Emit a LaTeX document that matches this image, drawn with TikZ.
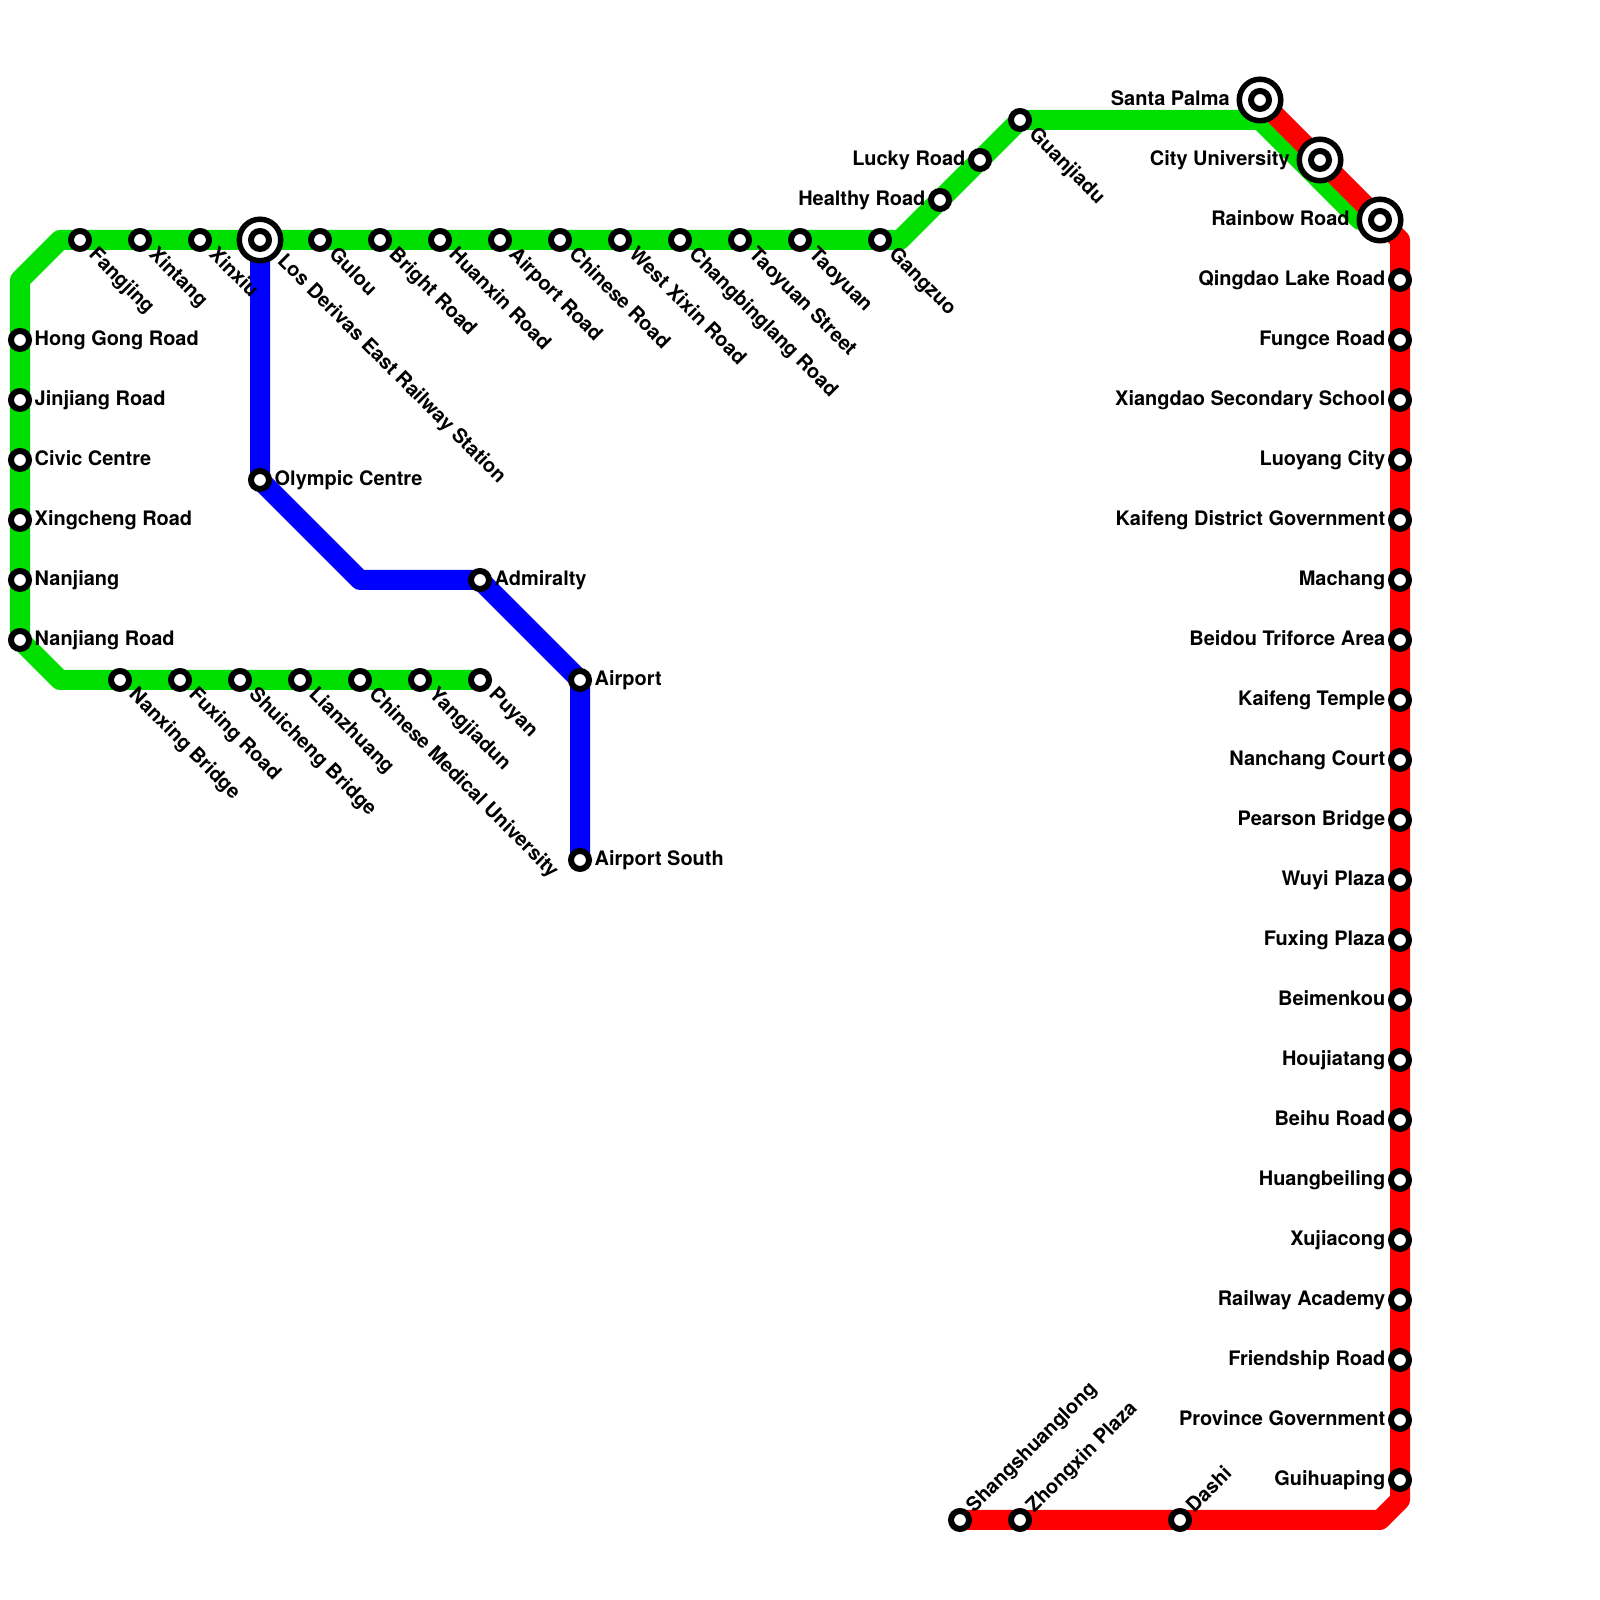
\documentclass[tikz,border=0pt]{standalone}
\usepackage{fontspec}
\setmainfont{TeX Gyre Heros}
\usepackage{xcolor}
\usepackage{tikz}
\usetikzlibrary{positioning,backgrounds}
\definecolor{lineg}{RGB}{0,224,0}
\definecolor{liner}{RGB}{255,0,0}
\definecolor{lineb}{RGB}{0,0,255}

\begin{document}
\begin{tikzpicture}[
    stn/.style={circle,draw=black,fill=white,line width=0.6mm,inner sep=0pt,minimum size=1.8mm},
    big/.style={circle,draw=black,fill=white,line width=0.55mm,inner sep=0pt,minimum size=4.15mm},
    lab/.style={font=\fontsize{5.68pt}{6pt}\selectfont\bfseries,inner sep=0pt,text height=1.6mm,text depth=0.5mm},
    labd/.style={xshift=1.15mm,yshift=-1.15mm,lab,rotate=-45,anchor=west},
    labdd/.style={xshift=2mm,yshift=-1.8mm,lab,rotate=-45,anchor=west},
    labu/.style={xshift=1mm,yshift=1mm,lab,rotate=45,anchor=west},
    track/.style={line width=2mm,line join=round}
  ]
    \useasboundingbox (0,0) rectangle (16,16);
    % top row of the green line
    \node[stn] (fangjing) at (0.8,13.6) {};
    \node[stn] (xintang) at (1.4,13.6) {};
    \node[stn] (xinxiu) at (2.0,13.6) {};
    \node[big] (derivas) at (2.6,13.6) {};
    \node[stn] (derivasi) at (2.6,13.6) {};
    \node[stn] (gulou) at (3.2,13.6) {};
    \node[stn] (bright) at (3.8,13.6) {};
    \node[stn] (huanxin) at (4.4,13.6) {};
    \node[stn] (airportrd) at (5.0,13.6) {};
    \node[stn] (chinese) at (5.6,13.6) {};
    \node[stn] (westxixin) at (6.2,13.6) {};
    \node[stn] (changbing) at (6.8,13.6) {};
    \node[stn] (taoyuanst) at (7.4,13.6) {};
    \node[stn] (taoyuan) at (8.0,13.6) {};
    \node[stn] (gangzuo) at (8.8,13.6) {};
    \node[stn] (healthy) at (9.4,14.0) {};
    \node[stn] (lucky) at (9.8,14.4) {};
    \node[stn] (guanjiadu) at (10.2,14.8) {};
    \node[labd] (fangjinglab) at (fangjing) {Fangjing};
    \node[labd] (xintanglab) at (xintang) {Xintang};
    \node[labd] (xinxiulab) at (xinxiu) {Xinxiu};
    \node[labdd] (derivaslab) at (derivas) {Los Derivas East Railway Station};
    \node[labd] (gouloulab) at (gulou) {Gulou};
    \node[labd] (brightlab) at (bright) {Bright Road};
    \node[labd] (huanxinlab) at (huanxin) {Huanxin Road};
    \node[labd] (airportrdlab) at (airportrd) {Airport Road};
    \node[labd] (chineselab) at (chinese) {Chinese Road};
    \node[labd] (westxixinlab) at (westxixin) {West Xixin Road};
    \node[labd] (changbinglab) at (changbing) {Changbinglang Road};
    \node[labd] (taoyuanstlab) at (taoyuanst) {Taoyuan Street};
    \node[labd] (taoyuanlab) at (taoyuan) {Taoyuan};
    \node[labd] (gangzuolab) at (gangzuo) {Gangzuo};
    \node[lab,left=0.2mm of healthy] (healthylab) {Healthy Road};
    \node[lab,left=0.2mm of lucky] (luckylab) {Lucky Road};
    \node[labd] (guanjiadulab) at (guanjiadu) {Guanjiadu};
    % left side
    \node[stn] (honggong) at (0.2,12.6) {};
    \node[stn] (jinjiang) at (0.2,12.0) {};
    \node[stn] (civic) at (0.2,11.4) {};
    \node[stn] (xingcheng) at (0.2,10.8) {};
    \node[stn] (nanjiang) at (0.2,10.2) {};
    \node[stn] (nanjiangrd) at (0.2,9.6) {};
    \node[lab,right=0.2mm of honggong] (hongonglab) {Hong Gong Road};
    \node[lab,right=0.2mm of jinjiang] (jinjianglab) {Jinjiang Road};
    \node[lab,right=0.2mm of civic] (civiclab) {Civic Centre};
    \node[lab,right=0.2mm of xingcheng] (xingchenglab) {Xingcheng Road};
    \node[lab,right=0.2mm of nanjiang] (nanjianglab) {Nanjiang};
    \node[lab,right=0.2mm of nanjiangrd] (nanjiangrdlab) {Nanjiang Road};
    % lower row of the green line
    \node[stn] (nanxing) at (1.2,9.2) {};
    \node[stn] (fuxingrd) at (1.8,9.2) {};
    \node[stn] (shuicheng) at (2.4,9.2) {};
    \node[stn] (lianzhuang) at (3.0,9.2) {};
    \node[stn] (medical) at (3.6,9.2) {};
    \node[stn] (yangjiadun) at (4.2,9.2) {};
    \node[stn] (puyan) at (4.8,9.2) {};
    \node[labd] (nanxinglab) at (nanxing) {Nanxing Bridge};
    \node[labd] (fuxingrdlab) at (fuxingrd) {Fuxing Road};
    \node[labd] (shuichenglab) at (shuicheng) {Shuicheng Bridge};
    \node[labd] (lianzhuanglab) at (lianzhuang) {Lianzhuang};
    \node[labd] (medicallab) at (medical) {Chinese Medical University};
    \node[labd] (yangjiadunlab) at (yangjiadun) {Yangjiadun};
    \node[labd] (puyanlab) at (puyan) {Puyan};
    % blue line
    \node[stn] (olympic) at (2.6,11.2) {};
    \node[stn] (admiralty) at (4.8,10.2) {};
    \node[stn] (airport) at (5.8,9.2) {};
    \node[stn] (airportsth) at (5.8,7.4) {};
    \node[lab,right=0.2mm of olympic] (olympiclab) {Olympic Centre};
    \node[lab,right=0.2mm of admiralty] (admiraltylab) {Admiralty};
    \node[lab,right=0.2mm of airport] (airportlab) {Airport};
    \node[lab,right=0.2mm of airportsth] (airportsthlab) {Airport South};
    % shared stretch, top right
    \node[big] (santa) at (12.6,15.0) {};
    \node[stn] (santai) at (12.6,15.0) {};
    \node[big] (cityuni) at (13.2,14.4) {};
    \node[stn] (cityunii) at (13.2,14.4) {};
    \node[big] (rainbow) at (13.8,13.8) {};
    \node[stn] (rainbowi) at (13.8,13.8) {};
    \node[lab,left=0.62mm of santa] (santalab) {Santa Palma};
    \node[lab,left=0.62mm of cityuni] (cityunilab) {City University};
    \node[lab,left=0.62mm of rainbow] (rainbowlab) {Rainbow Road};
    % red line, right side
    \node[stn] (qingdao) at (14,13.2) {};
    \node[stn] (fungce) at (14,12.6) {};
    \node[stn] (xiangdao) at (14,12.0) {};
    \node[stn] (luoyang) at (14,11.4) {};
    \node[stn] (kaifengdg) at (14,10.8) {};
    \node[stn] (machang) at (14,10.2) {};
    \node[stn] (beidou) at (14,9.6) {};
    \node[stn] (kaifengt) at (14,9.0) {};
    \node[stn] (nanchang) at (14,8.4) {};
    \node[stn] (pearson) at (14,7.8) {};
    \node[stn] (wuyi) at (14,7.2) {};
    \node[stn] (fuxingpl) at (14,6.6) {};
    \node[stn] (beimenkou) at (14,6.0) {};
    \node[stn] (houjiatang) at (14,5.4) {};
    \node[stn] (beihu) at (14,4.8) {};
    \node[stn] (huangbei) at (14,4.2) {};
    \node[stn] (xujiacong) at (14,3.6) {};
    \node[stn] (railway) at (14,3.0) {};
    \node[stn] (friendship) at (14,2.4) {};
    \node[stn] (province) at (14,1.8) {};
    \node[stn] (guihuaping) at (14,1.2) {};
    \node[lab,left=0.2mm of qingdao] (qingdaolab) {Qingdao Lake Road};
    \node[lab,left=0.2mm of fungce] (fungcelab) {Fungce Road};
    \node[lab,left=0.2mm of xiangdao] (xiangdaolab) {Xiangdao Secondary School};
    \node[lab,left=0.2mm of luoyang] (luoyanglab) {Luoyang City};
    \node[lab,left=0.2mm of kaifengdg] (kaifengdglab) {Kaifeng District Government};
    \node[lab,left=0.2mm of machang] (machanglab) {Machang};
    \node[lab,left=0.2mm of beidou] (beidoulab) {Beidou Triforce Area};
    \node[lab,left=0.2mm of kaifengt] (kaifengtlab) {Kaifeng Temple};
    \node[lab,left=0.2mm of nanchang] (nanchanglab) {Nanchang Court};
    \node[lab,left=0.2mm of pearson] (pearsonlab) {Pearson Bridge};
    \node[lab,left=0.2mm of wuyi] (wuyilab) {Wuyi Plaza};
    \node[lab,left=0.2mm of fuxingpl] (fuxingpllab) {Fuxing Plaza};
    \node[lab,left=0.2mm of beimenkou] (beimenkoulab) {Beimenkou};
    \node[lab,left=0.2mm of houjiatang] (houjiatanglab) {Houjiatang};
    \node[lab,left=0.2mm of beihu] (beihulab) {Beihu Road};
    \node[lab,left=0.2mm of huangbei] (huangbeilab) {Huangbeiling};
    \node[lab,left=0.2mm of xujiacong] (xujiaconglab) {Xujiacong};
    \node[lab,left=0.2mm of railway] (railwaylab) {Railway Academy};
    \node[lab,left=0.2mm of friendship] (friendshiplab) {Friendship Road};
    \node[lab,left=0.2mm of province] (provincelab) {Province Government};
    \node[lab,left=0.2mm of guihuaping] (guihuapinglab) {Guihuaping};
    % red line, bottom
    \node[stn] (shuanglong) at (9.6,0.8) {};
    \node[stn] (zhongxin) at (10.2,0.8) {};
    \node[stn] (dashi) at (11.8,0.8) {};
    \node[labu] (shuanglonglab) at (shuanglong) {Shangshuanglong};
    \node[labu] (zhongxinlab) at (zhongxin) {Zhongxin Plaza};
    \node[labu] (dashilab) at (dashi) {Dashi};
    % bends
    \coordinate (ga) at (0.6,9.2);
    \coordinate (gb) at (0.2,9.6);
    \coordinate (gc) at (0.2,13.2);
    \coordinate (gd) at (0.6,13.6);
    \coordinate (ge) at (9.0,13.6);
    \coordinate (gf) at (12.6,14.8);
    \coordinate (gg) at (13.6,13.8);
    \coordinate (ba) at (3.6,10.2);
    \coordinate (ra) at (13.8,0.8);
    \coordinate (rb) at (14,1.0);
    \coordinate (rc) at (14,13.6);
    \begin{pgfonlayer}{background}
      \draw[track,lineg] (puyan.center) -- (ga) -- (gb) -- (gc) -- (gd) -- (ge) -- (guanjiadu.center) -- (gf) -- (gg) -- (rainbow.center);
      \draw[track,lineb] (derivas.center) -- (olympic.center) -- (ba) -- (admiralty.center) -- (airport.center) -- (airportsth.center);
      \draw[track,liner] (shuanglong.center) -- (ra) -- (rb) -- (rc) -- (rainbow.center) -- (cityuni.center) -- (santa.center);
    \end{pgfonlayer}
  \end{tikzpicture}
\end{document}
